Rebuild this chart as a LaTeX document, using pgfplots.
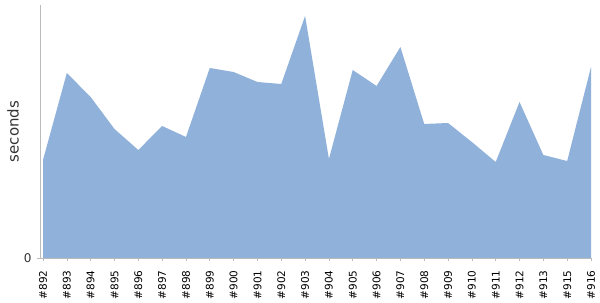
\documentclass[border=0pt]{standalone}
\usepackage{pgfplots}
\pgfplotsset{compat=1.18}
\usepackage{fontspec}
\setmainfont{DejaVu Sans}
\usetikzlibrary{calc}
\definecolor{areafill}{HTML}{8FB1DA}
\definecolor{axgray}{HTML}{BBBBBB}
\definecolor{txt}{HTML}{333333}
\pgfplotstableread{
x y
0 98
1 185
2 161
3 129
4 108
5 132
6 121
7 190
8 186
9 176
10 174
11 242
12 99
13 188
14 172
15 211
16 134
17 135
18 116
19 96
20 156
21 103
22 97
23 191
}\datatable
\begin{document}
\begin{tikzpicture}
\begin{axis}[
  scale only axis,
  width=551pt, height=253pt,
  xmin=-0.126, xmax=23,
  ymin=0, ymax=253,
  axis x line*=bottom,
  axis y line*=left,
  axis line style={axgray, line width=0.8pt},
  /pgf/number format/assume math mode=true,
  xtick={0,...,23},
  xticklabels={\#892,\#893,\#894,\#895,\#896,\#897,\#898,\#899,\#900,\#901,\#902,\#903,\#904,\#905,\#906,\#907,\#908,\#909,\#910,\#911,\#912,\#913,\#915,\#916},
  xticklabel style={rotate=90, anchor=east, font=\fontsize{10.5}{12}\selectfont, text=black, xshift=-6pt},
  ytick={0},
  yticklabels={0},
  yticklabel style={font=\fontsize{12}{14}\selectfont, text=txt, xshift=-2pt},
  tick style={axgray, line width=0.6pt},
  tick align=outside,
  major tick length=3pt,
  ylabel={seconds},
  every axis y label/.style={at={(rel axis cs:0,0.5)}, rotate=90, anchor=center, yshift=27pt, font=\fontsize{15}{18}\selectfont, text=txt},
]
\addplot[draw=none, fill=areafill] table[x=x, y=y] {\datatable} \closedcycle;
\end{axis}
\path[use as bounding box] ($(current axis.south west)+(-40pt,-42pt)$) rectangle ($(current axis.north east)+(9pt,5pt)$);
\end{tikzpicture}
\end{document}
